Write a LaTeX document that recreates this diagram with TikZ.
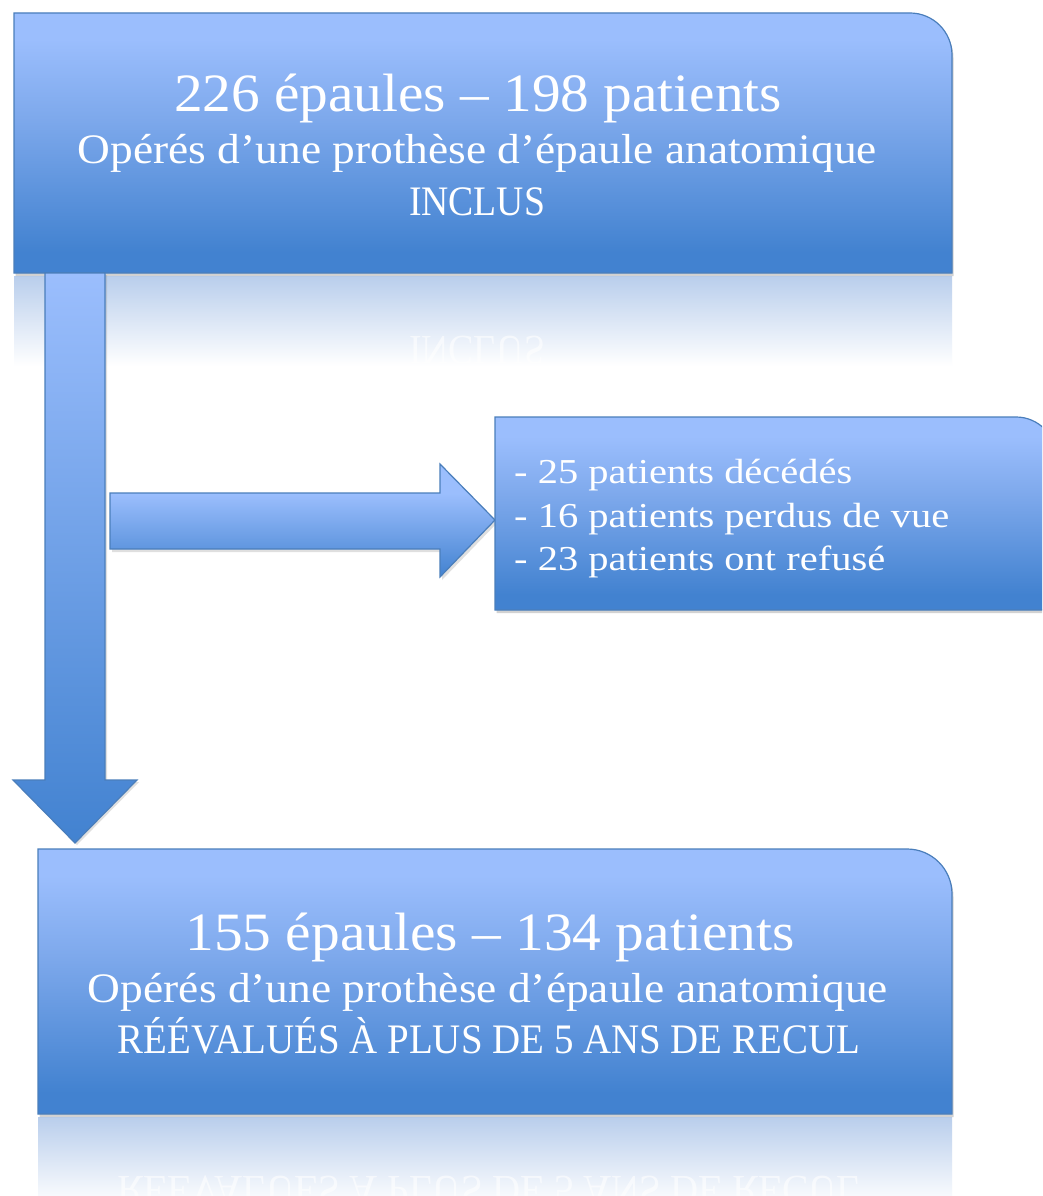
\documentclass[tikz,border=0pt]{standalone}
\usepackage{fontspec}
\setmainfont{Liberation Serif}
\usepackage{graphicx}
\usetikzlibrary{shadows}
\definecolor{blight}{HTML}{9BBEFD}
\definecolor{bmid}{HTML}{7EA9EC}
\definecolor{bdark}{HTML}{4282D0}
\definecolor{bline}{HTML}{4A7EBB}
\definecolor{refl}{HTML}{B9CEEC}
\pgfdeclareverticalshading{boxsh}{100bp}{color(0bp)=(bdark); color(29bp)=(bdark); color(55bp)=(bmid); color(70bp)=(blight); color(100bp)=(blight)}
\pgfdeclareverticalshading{harrowsh}{100bp}{color(0bp)=(bdark); color(25bp)=(bdark); color(62bp)=(blight); color(100bp)=(blight)}
\tikzset{
  boxstyle/.style={shading=boxsh, draw=bline, line width=1.2pt,
    drop shadow={opacity=0.35, shadow xshift=1.5pt, shadow yshift=-3pt}},
  varrow/.style={top color=blight, bottom color=bdark, draw=bline, line width=1.2pt,
    drop shadow={opacity=0.25, shadow xshift=2pt, shadow yshift=-2pt}},
  harrow/.style={shading=harrowsh, draw=bline, line width=1.2pt,
    drop shadow={opacity=0.25, shadow xshift=2pt, shadow yshift=-3pt}},
  reflbox/.style={top color=refl, bottom color=white, draw=none},
  txt/.style={text=white, inner sep=0pt, anchor=base},
  ltxt/.style={text=white, inner sep=0pt, anchor=base west},
  bigf/.style={font=\fontsize{54}{62}\selectfont},
  medf/.style={font=\fontsize{42}{50}\selectfont},
  smf/.style={font=\fontsize{35}{42}\selectfont},
  mirror/.style={text=white, opacity=0.6, inner sep=0pt, anchor=base, transform shape}
}
\begin{document}
\begin{tikzpicture}[x=1pt, y=-1pt]
\useasboundingbox (0,0) rectangle (1042,1196);
\clip (0,0) rectangle (1042,1196);
\fill[white] (0,0) rectangle (1042,1196);

% reflection under top box
\fill[reflbox] (14,276) rectangle (952,366);
\begin{scope}[shift={(477,336)}, yscale=-1]
  \node[mirror, medf] (r1) at (0,0) {\resizebox{136pt}{\height}{INCLUS}};
\end{scope}

% top box
\path[boxstyle] (14,273) -- (14,13) -- (910,13) arc[start angle=90, end angle=0, radius=42pt] -- (952,273) -- cycle;
\node[txt, bigf] (t1) at (478,112) {\resizebox{608pt}{\height}{226 épaules – 198 patients}};
\node[txt, medf] (t2) at (477.5,164) {\resizebox{799pt}{\height}{Opérés d’une prothèse d’épaule anatomique}};
\node[txt, medf] (t3) at (477,215) {\resizebox{136pt}{\height}{INCLUS}};

% vertical arrow
\path[varrow] (45,273) -- (105,273) -- (105,780) -- (137,780) -- (75,843) -- (13,780) -- (45,780) -- cycle;

% horizontal arrow
\path[harrow] (110,493) -- (440,493) -- (440,464) -- (495,520) -- (440,577) -- (440,549) -- (110,549) -- cycle;

% right box
\path[boxstyle] (495,610) -- (495,417) -- (1016,417) arc[start angle=90, end angle=0, radius=40pt] -- (1056,610) -- cycle;
\node[ltxt, smf] (e1) at (514,483) {\resizebox{338pt}{\height}{- 25 patients décédés}};
\node[ltxt, smf] (e2) at (514,527) {\resizebox{435pt}{\height}{- 16 patients perdus de vue}};
\node[ltxt, smf] (e3) at (514,570) {\resizebox{371pt}{\height}{- 23 patients ont refusé}};

% reflection under bottom box
\fill[reflbox] (38,1117) rectangle (952,1205);
\begin{scope}[shift={(489,1176)}, yscale=-1]
  \node[mirror, medf] (r2) at (0,0) {\resizebox{742pt}{\height}{RÉÉVALUÉS À PLUS DE 5 ANS DE RECUL}};
\end{scope}

% bottom box
\path[boxstyle] (38,1114) -- (38,849) -- (907,849) arc[start angle=90, end angle=0, radius=45pt] -- (952,1114) -- cycle;
\node[txt, bigf] (b1) at (490,950) {\resizebox{609pt}{\height}{155 épaules – 134 patients}};
\node[txt, medf] (b2) at (488,1002) {\resizebox{800pt}{\height}{Opérés d’une prothèse d’épaule anatomique}};
\node[txt, medf] (b3) at (489,1053) {\resizebox{742pt}{\height}{RÉÉVALUÉS À PLUS DE 5 ANS DE RECUL}};
\end{tikzpicture}
\end{document}
